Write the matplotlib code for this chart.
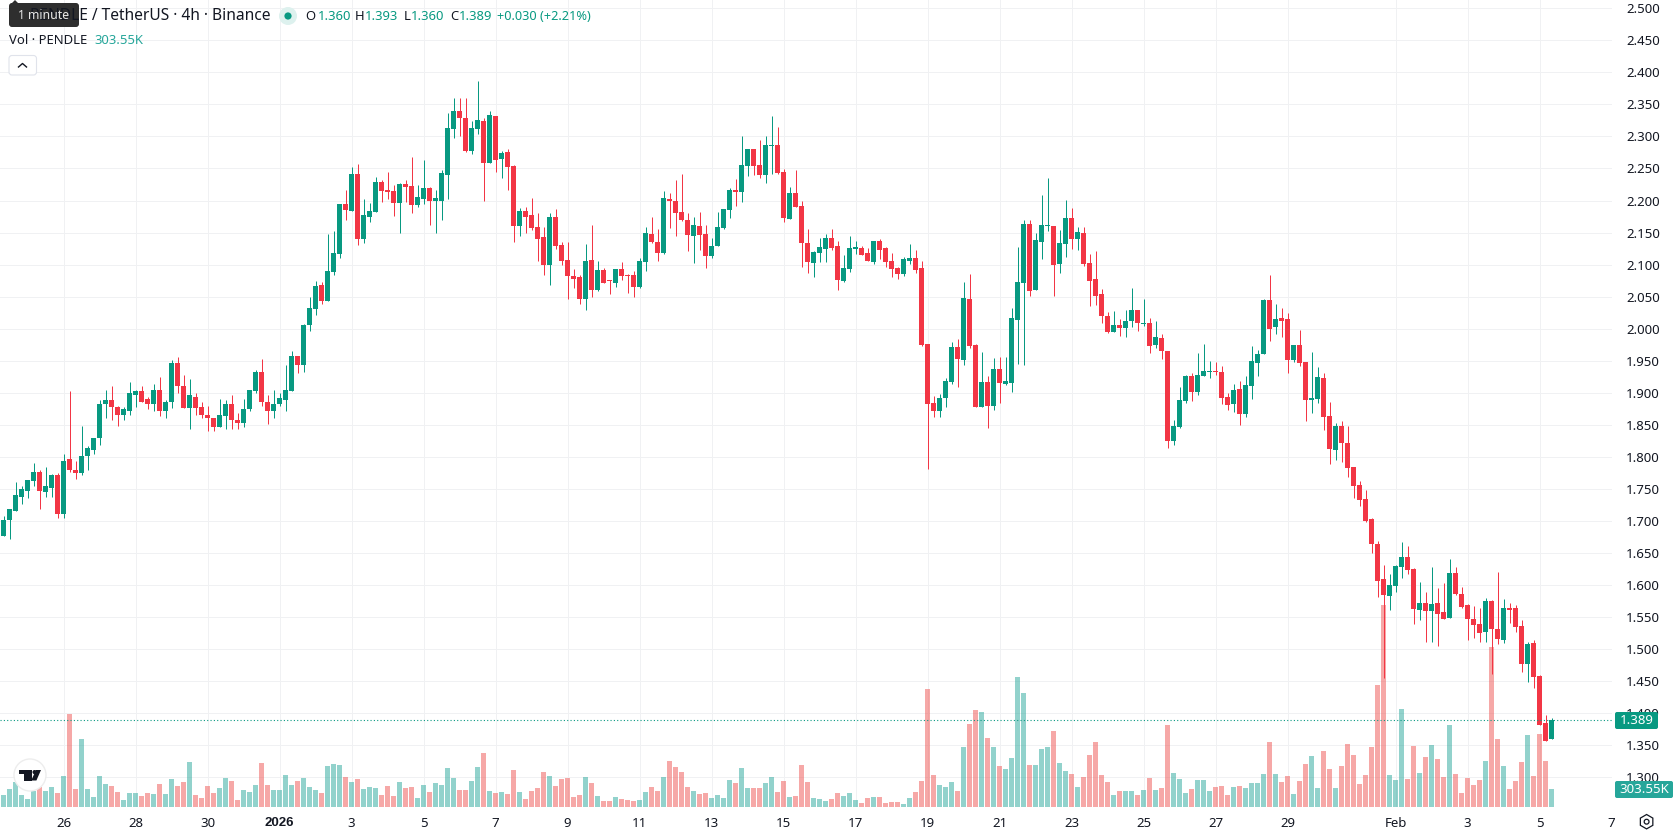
import matplotlib
matplotlib.use('Agg')
import matplotlib.pyplot as plt
from matplotlib.patches import Circle, FancyBboxPatch, Polygon, RegularPolygon
import numpy as np

plt.rcParams['font.family'] = ['Noto Sans', 'DejaVu Sans']

# 4h candles, PENDLE / TetherUS
opens = [1.677, 1.701, 1.715, 1.738, 1.747, 1.762, 1.777, 1.745, 1.751, 1.771,
         1.710, 1.796, 1.780, 1.775, 1.801, 1.811, 1.829, 1.882, 1.888, 1.877,
         1.865, 1.872, 1.897, 1.902, 1.890, 1.883, 1.905, 1.872, 1.885, 1.947,
         1.911, 1.876, 1.894, 1.877, 1.866, 1.861, 1.847, 1.863, 1.883, 1.858,
         1.852, 1.874, 1.902, 1.933, 1.886, 1.871, 1.882, 1.888, 1.902, 1.958,
         1.943, 2.005, 2.030, 2.068, 2.043, 2.088, 2.116, 2.194, 2.183, 2.241,
         2.140, 2.175, 2.182, 2.229, 2.216, 2.215, 2.196, 2.226, 2.222, 2.193,
         2.202, 2.219, 2.199, 2.200, 2.240, 2.311, 2.340, 2.329, 2.277, 2.311,
         2.324, 2.258, 2.332, 2.265, 2.276, 2.254, 2.160, 2.183, 2.177, 2.158,
         2.143, 2.100, 2.175, 2.130, 2.107, 2.082, 2.080, 2.047, 2.107, 2.060,
         2.091, 2.076, 2.072, 2.093, 2.083, 2.083, 2.065, 2.104, 2.147, 2.136,
         2.118, 2.202, 2.200, 2.182, 2.169, 2.144, 2.160, 2.147, 2.113, 2.129,
         2.157, 2.185, 2.216, 2.213, 2.254, 2.280, 2.255, 2.240, 2.285, 2.286,
         2.244, 2.171, 2.211, 2.191, 2.133, 2.102, 2.118, 2.124, 2.141, 2.129,
         2.074, 2.093, 2.124, 2.126, 2.118, 2.104, 2.137, 2.126, 2.106, 2.095,
         2.085, 2.106, 2.110, 2.095, 1.976, 1.884, 1.872, 1.891, 1.917, 1.972,
         1.951, 2.046, 1.975, 1.878, 1.917, 1.880, 1.937, 1.914, 1.915, 2.014,
         2.071, 2.163, 2.060, 2.135, 2.160, 2.160, 2.101, 2.132, 2.173, 2.140,
         2.149, 2.102, 2.078, 2.054, 2.020, 1.995, 2.006, 2.001, 2.012, 2.029,
         2.007, 2.009, 1.975, 1.986, 1.965, 1.825, 1.847, 1.887, 1.926, 1.901,
         1.926, 1.932, 1.934, 1.932, 1.893, 1.882, 1.906, 1.867, 1.910, 1.946,
         1.960, 2.044, 2.002, 2.016, 2.015, 1.951, 1.974, 1.948, 1.888, 1.890,
         1.923, 1.863, 1.810, 1.848, 1.821, 1.784, 1.756, 1.734, 1.703, 1.664,
         1.609, 1.583, 1.598, 1.628, 1.644, 1.625, 1.561, 1.572, 1.559, 1.572,
         1.558, 1.548, 1.619, 1.586, 1.569, 1.547, 1.539, 1.527, 1.575, 1.531,
         1.514, 1.564, 1.564, 1.536, 1.477, 1.509, 1.458, 1.385, 1.360]
closes = [1.702, 1.718, 1.740, 1.749, 1.763, 1.777, 1.746, 1.754, 1.771, 1.711,
          1.794, 1.779, 1.775, 1.801, 1.813, 1.830, 1.883, 1.888, 1.877, 1.865,
          1.874, 1.899, 1.902, 1.886, 1.883, 1.904, 1.872, 1.886, 1.947, 1.910,
          1.876, 1.896, 1.876, 1.865, 1.860, 1.847, 1.865, 1.882, 1.857, 1.852,
          1.874, 1.905, 1.933, 1.885, 1.871, 1.883, 1.891, 1.904, 1.958, 1.943,
          2.005, 2.032, 2.066, 2.043, 2.090, 2.118, 2.194, 2.185, 2.241, 2.140,
          2.177, 2.183, 2.229, 2.215, 2.213, 2.196, 2.226, 2.221, 2.193, 2.205,
          2.219, 2.199, 2.204, 2.243, 2.313, 2.340, 2.329, 2.277, 2.313, 2.326,
          2.258, 2.333, 2.263, 2.274, 2.252, 2.160, 2.183, 2.175, 2.157, 2.140,
          2.100, 2.175, 2.129, 2.105, 2.082, 2.077, 2.047, 2.105, 2.060, 2.091,
          2.071, 2.074, 2.093, 2.082, 2.082, 2.065, 2.105, 2.149, 2.135, 2.118,
          2.204, 2.199, 2.180, 2.169, 2.146, 2.161, 2.146, 2.113, 2.129, 2.158,
          2.186, 2.216, 2.213, 2.255, 2.280, 2.254, 2.240, 2.286, 2.286, 2.243,
          2.172, 2.211, 2.190, 2.133, 2.104, 2.119, 2.127, 2.141, 2.126, 2.076,
          2.095, 2.126, 2.127, 2.115, 2.106, 2.137, 2.123, 2.104, 2.093, 2.085,
          2.109, 2.110, 2.092, 1.975, 1.883, 1.872, 1.892, 1.918, 1.972, 1.953,
          2.048, 1.973, 1.878, 1.917, 1.880, 1.937, 1.915, 1.919, 2.017, 2.073,
          2.163, 2.059, 2.138, 2.162, 2.162, 2.099, 2.134, 2.173, 2.140, 2.151,
          2.101, 2.074, 2.051, 2.020, 1.995, 2.006, 2.001, 2.012, 2.029, 2.009,
          2.009, 1.973, 1.987, 1.965, 1.824, 1.848, 1.889, 1.926, 1.901, 1.928,
          1.934, 1.934, 1.932, 1.891, 1.881, 1.904, 1.867, 1.912, 1.949, 1.960,
          2.044, 2.000, 2.015, 2.012, 1.951, 1.974, 1.946, 1.888, 1.891, 1.924,
          1.862, 1.812, 1.848, 1.821, 1.782, 1.754, 1.732, 1.700, 1.664, 1.606,
          1.584, 1.600, 1.630, 1.644, 1.623, 1.562, 1.572, 1.559, 1.570, 1.555,
          1.547, 1.619, 1.586, 1.566, 1.547, 1.538, 1.525, 1.575, 1.531, 1.516,
          1.564, 1.561, 1.534, 1.477, 1.508, 1.456, 1.382, 1.357, 1.389]
highs = [1.708, 1.718, 1.760, 1.755, 1.764, 1.790, 1.780, 1.784, 1.773, 1.774,
         1.804, 1.902, 1.794, 1.848, 1.817, 1.830, 1.888, 1.904, 1.911, 1.879,
         1.877, 1.916, 1.905, 1.910, 1.894, 1.914, 1.924, 1.888, 1.951, 1.955,
         1.927, 1.922, 1.900, 1.886, 1.880, 1.861, 1.890, 1.888, 1.896, 1.868,
         1.890, 1.905, 1.936, 1.952, 1.897, 1.904, 1.899, 1.944, 1.965, 1.958,
         2.008, 2.050, 2.075, 2.073, 2.147, 2.152, 2.194, 2.216, 2.252, 2.257,
         2.202, 2.196, 2.236, 2.232, 2.244, 2.224, 2.227, 2.232, 2.268, 2.224,
         2.263, 2.221, 2.216, 2.247, 2.336, 2.360, 2.360, 2.360, 2.324, 2.386,
         2.329, 2.340, 2.332, 2.277, 2.280, 2.255, 2.188, 2.190, 2.204, 2.180,
         2.158, 2.180, 2.186, 2.136, 2.136, 2.093, 2.083, 2.132, 2.161, 2.105,
         2.094, 2.076, 2.093, 2.104, 2.085, 2.090, 2.111, 2.158, 2.175, 2.155,
         2.215, 2.212, 2.232, 2.241, 2.180, 2.174, 2.182, 2.161, 2.141, 2.182,
         2.186, 2.219, 2.233, 2.300, 2.280, 2.280, 2.294, 2.300, 2.332, 2.315,
         2.249, 2.221, 2.248, 2.200, 2.155, 2.121, 2.141, 2.148, 2.155, 2.137,
         2.115, 2.145, 2.137, 2.129, 2.126, 2.137, 2.140, 2.127, 2.118, 2.096,
         2.112, 2.132, 2.123, 2.106, 1.976, 1.895, 1.898, 1.923, 1.979, 1.984,
         2.073, 2.085, 1.976, 1.964, 1.926, 1.954, 1.956, 1.956, 2.032, 2.127,
         2.169, 2.169, 2.149, 2.208, 2.235, 2.160, 2.154, 2.201, 2.188, 2.159,
         2.159, 2.116, 2.121, 2.062, 2.026, 2.028, 2.015, 2.029, 2.063, 2.029,
         2.046, 2.017, 2.012, 1.992, 1.965, 1.858, 1.909, 1.928, 1.931, 1.962,
         1.976, 1.949, 1.948, 1.941, 1.899, 1.913, 1.918, 1.926, 1.973, 1.966,
         2.047, 2.083, 2.038, 2.032, 2.024, 1.974, 1.998, 1.948, 1.963, 1.940,
         1.930, 1.885, 1.852, 1.856, 1.848, 1.784, 1.762, 1.748, 1.704, 1.668,
         1.631, 1.617, 1.631, 1.667, 1.661, 1.626, 1.605, 1.589, 1.628, 1.595,
         1.603, 1.640, 1.628, 1.597, 1.570, 1.567, 1.564, 1.580, 1.577, 1.620,
         1.578, 1.572, 1.569, 1.545, 1.511, 1.514, 1.460, 1.397, 1.393]
lows = [1.677, 1.672, 1.715, 1.727, 1.735, 1.755, 1.719, 1.738, 1.738, 1.705,
        1.704, 1.777, 1.766, 1.771, 1.780, 1.805, 1.818, 1.861, 1.857, 1.848,
        1.858, 1.865, 1.877, 1.886, 1.874, 1.872, 1.863, 1.861, 1.876, 1.899,
        1.876, 1.844, 1.866, 1.860, 1.841, 1.840, 1.847, 1.843, 1.844, 1.844,
        1.846, 1.872, 1.899, 1.880, 1.851, 1.860, 1.879, 1.872, 1.902, 1.930,
        1.933, 1.997, 2.022, 2.038, 2.043, 2.083, 2.111, 2.169, 2.183, 2.130,
        2.133, 2.166, 2.182, 2.197, 2.202, 2.176, 2.150, 2.197, 2.180, 2.190,
        2.194, 2.161, 2.150, 2.169, 2.202, 2.297, 2.301, 2.276, 2.272, 2.304,
        2.199, 2.258, 2.244, 2.235, 2.216, 2.135, 2.144, 2.150, 2.154, 2.105,
        2.083, 2.068, 2.124, 2.100, 2.046, 2.063, 2.038, 2.029, 2.050, 2.058,
        2.071, 2.054, 2.065, 2.076, 2.055, 2.050, 2.063, 2.090, 2.133, 2.105,
        2.116, 2.157, 2.144, 2.168, 2.121, 2.102, 2.122, 2.094, 2.111, 2.129,
        2.155, 2.172, 2.191, 2.197, 2.238, 2.240, 2.235, 2.227, 2.241, 2.241,
        2.166, 2.171, 2.190, 2.097, 2.087, 2.080, 2.104, 2.104, 2.123, 2.060,
        2.073, 2.088, 2.116, 2.115, 2.106, 2.101, 2.109, 2.096, 2.081, 2.078,
        2.082, 2.101, 2.087, 1.973, 1.781, 1.862, 1.862, 1.878, 1.914, 1.909,
        1.944, 1.970, 1.878, 1.878, 1.845, 1.873, 1.884, 1.912, 1.901, 1.945,
        1.943, 2.051, 2.060, 2.109, 2.152, 2.051, 2.087, 2.112, 2.124, 2.123,
        2.098, 2.035, 2.037, 2.009, 1.993, 1.995, 1.989, 1.987, 2.003, 1.996,
        2.004, 1.962, 1.970, 1.953, 1.814, 1.819, 1.845, 1.884, 1.887, 1.897,
        1.926, 1.923, 1.927, 1.882, 1.873, 1.870, 1.849, 1.862, 1.890, 1.926,
        1.960, 1.980, 1.991, 1.987, 1.930, 1.948, 1.941, 1.856, 1.868, 1.884,
        1.842, 1.789, 1.795, 1.792, 1.768, 1.736, 1.723, 1.698, 1.650, 1.581,
        1.455, 1.561, 1.589, 1.611, 1.617, 1.539, 1.545, 1.511, 1.511, 1.505,
        1.547, 1.548, 1.584, 1.564, 1.514, 1.517, 1.511, 1.511, 1.461, 1.508,
        1.509, 1.541, 1.527, 1.464, 1.449, 1.439, 1.382, 1.356, 1.360]
# volume in thousands of PENDLE
volumes = [202, 304, 421, 202, 135, 270, 337, 270, 337, 236,
           523, 1568, 304, 1146, 304, 169, 523, 388, 354, 253,
           118, 236, 236, 185, 236, 219, 388, 219, 472, 354,
           421, 759, 202, 152, 354, 236, 320, 489, 438, 118,
           287, 253, 371, 742, 371, 287, 287, 540, 371, 438,
           489, 337, 287, 236, 691, 725, 708, 506, 421, 472,
           304, 337, 320, 202, 354, 185, 421, 320, 337, 152,
           371, 253, 405, 371, 658, 489, 287, 287, 438, 674,
           910, 270, 236, 253, 219, 624, 253, 135, 270, 320,
           590, 523, 354, 472, 489, 169, 202, 506, 405, 185,
           101, 101, 169, 135, 118, 101, 118, 253, 337, 270,
           506, 776, 674, 590, 337, 270, 219, 236, 152, 202,
           152, 455, 405, 658, 320, 320, 320, 405, 506, 253,
           438, 169, 185, 708, 421, 152, 135, 101, 135, 236,
           185, 236, 118, 67, 152, 169, 169, 67, 84, 84,
           51, 152, 253, 438, 1989, 540, 371, 337, 421, 270,
           1012, 1399, 1635, 1602, 1163, 1012, 691, 641, 826, 2192,
           1922, 708, 708, 978, 1012, 1281, 742, 607, 556, 337,
           506, 877, 1096, 540, 421, 202, 270, 270, 270, 202,
           287, 489, 287, 320, 1383, 573, 472, 236, 304, 455,
           455, 270, 337, 354, 202, 337, 354, 320, 405, 405,
           556, 1096, 556, 421, 523, 219, 438, 725, 860, 320,
           944, 641, 320, 691, 1062, 877, 388, 540, 1012, 2057,
           3406, 540, 455, 1652, 472, 1028, 573, 843, 1045, 809,
           506, 1383, 556, 236, 489, 371, 455, 776, 2698, 1146,
           691, 304, 438, 759, 1214, 523, 1231, 776, 303.55]

# date axis: candle index of each labelled day
date_pos = [10, 22, 34, 46, 58, 70, 82, 94, 106, 118, 130, 142, 154, 166, 178, 190, 202, 214, 232, 244, 256, 268]
date_labels = ['26', '28', '30', '2026', '3', '5', '7', '9', '11', '13', '15', '17', '19', '21', '23', '25', '27', '29', 'Feb', '3', '5', '7']
price_ticks = [1.30 + 0.05 * k for k in range(25)]

UP = '#089981'
DOWN = '#F23645'
VOL_UP = '#26A69A'
VOL_DOWN = '#EF5350'
GRID = '#F0F1F3'
TEXT = '#131722'

W, H = 1678, 835
PLOT_R, PLOT_B = 1612, 807

fig = plt.figure(figsize=(W / 100, H / 100), dpi=100, facecolor='white')
rect = [0, (H - PLOT_B) / H, PLOT_R / W, PLOT_B / H]

# grid and axis labels sit on the bottom axes, volume above it, candles on top
ax = fig.add_axes(rect)
ax_vol = fig.add_axes(rect, sharex=ax)
ax_candle = fig.add_axes(rect, sharex=ax, sharey=ax)
ax_vol.patch.set_visible(False)
ax_candle.patch.set_visible(False)

x = np.arange(len(opens))
opens = np.array(opens)
closes = np.array(closes)
highs = np.array(highs)
lows = np.array(lows)
colors = [UP if c >= o else DOWN for o, c in zip(opens, closes)]
vol_colors = [VOL_UP if c >= o else VOL_DOWN for o, c in zip(opens, closes)]

ax.set_xlim(-3.5 / 6, (PLOT_R - 3.5) / 6)
ax.set_ylim(2.5 - (PLOT_B - 8.3) / 640.7, 2.5 + 8.3 / 640.7)
ax_vol.set_ylim(0, PLOT_B * 16.86)

ax.set_yticks(price_ticks)
ax.set_yticklabels(['%.3f' % p for p in price_ticks])
ax.yaxis.tick_right()
ax.set_xticks(date_pos)
ax.set_xticklabels(date_labels)
ax.tick_params(axis='both', length=0, labelsize=9.5, labelcolor=TEXT)
ax.tick_params(axis='y', pad=10)
ax.tick_params(axis='x', pad=7)
ax.grid(True, color=GRID, linewidth=0.72)
ax.set_axisbelow(True)
for spine in ax.spines.values():
    spine.set_visible(False)
for a in (ax_vol, ax_candle):
    a.axis('off')

# the year label is bold; Noto Sans has no bold face here
year_label = ax.get_xticklabels()[date_labels.index('2026')]
year_label.set_fontfamily('Liberation Sans')
year_label.set_fontweight('bold')

# volume bars
ax_vol.bar(x, volumes, width=5 / 6, color=vol_colors, alpha=0.5, linewidth=0)

# candles
ax_candle.vlines(x, lows, highs, colors=colors, linewidth=0.72)
ax_candle.bar(x, np.abs(closes - opens), bottom=np.minimum(opens, closes), width=5 / 6, color=colors, linewidth=0)
ax_candle.axhline(closes[-1], color=UP, linewidth=0.8, linestyle=(0, (1, 2)))

# header, tooltip, badges and other chrome in pixel coordinates
ov = fig.add_axes([0, 0, 1, 1], zorder=10)
ov.set_xlim(0, W)
ov.set_ylim(H, 0)
ov.axis('off')

ov.text(271, 16, 'PENDLE / TetherUS · 4h · Binance', ha='right', va='center', fontsize=11.2, color=TEXT)
ov.add_patch(Circle((288, 16), 9, color='#DDF1EE', linewidth=0))
ov.add_patch(Circle((288, 16), 3.6, color=UP, linewidth=0))
for px, label, col, size in [(305, 'O', TEXT, 9.4), (317.5, '%.3f' % opens[-1], UP, 9.4),
                             (355, 'H', TEXT, 9.4), (365, '%.3f' % highs[-1], UP, 9.4),
                             (404, 'L', TEXT, 9.4), (411, '%.3f' % lows[-1], UP, 9.4),
                             (450, 'C', TEXT, 9.4), (459, '%.3f' % closes[-1], UP, 9.4),
                             (497, '+0.030 (+2.21%)', UP, 9.2)]:
    ov.text(px, 16.5, label, ha='left', va='center', fontsize=size, color=col)
ov.text(9, 40.5, 'Vol · PENDLE', ha='left', va='center', fontsize=9.4, color=TEXT)
ov.text(94, 40.5, '303.55K', ha='left', va='center', fontsize=9.4, color=VOL_UP)

# "1 minute" tooltip over the symbol name
ov.add_patch(FancyBboxPatch((11, 5), 66, 20, boxstyle='round,pad=2,rounding_size=3', fc='#2E2E2E', ec='none'))
ov.add_patch(Polygon([(11, 4), (15, 0), (19, 4)], fc='#2E2E2E', ec='none'))
ov.text(44, 15.5, '1 minute', ha='center', va='center', fontsize=8.8, color='#E6E6E6')

# collapse button
ov.add_patch(FancyBboxPatch((10, 56.5), 25.5, 17.5, boxstyle='round,pad=1,rounding_size=3', fc='white', ec='#E0E3EB', linewidth=0.8))
ov.plot([18.5, 22.5, 26.5], [67, 63.5, 67], color=TEXT, linewidth=1)

# last price and volume badges
ov.add_patch(FancyBboxPatch((1616, 713), 41, 15, boxstyle='round,pad=1,rounding_size=2', fc=UP, ec='none'))
ov.text(1636.5, 720.8, '%.3f' % closes[-1], ha='center', va='center', fontsize=9.5, color='white')
ov.add_patch(FancyBboxPatch((1616, 782), 56, 15, boxstyle='round,pad=1,rounding_size=2', fc=VOL_UP, ec='none'))
ov.text(1644, 789.8, '303.55K', ha='center', va='center', fontsize=9.5, color='white')

# logo badge
ov.add_patch(Circle((30, 775), 16, fc='white', ec='#EDEDED', linewidth=1))
ov.add_patch(Polygon([(18.6, 770), (31.5, 770), (31.5, 780.5), (23.6, 780.5), (23.6, 774.2), (18.6, 774.2)], fc='#131722', ec='none'))
ov.add_patch(Circle((34.6, 772.1), 2.1, fc='#131722', ec='none'))
ov.add_patch(Polygon([(36, 770), (41, 770), (36.4, 780.5), (31.2, 780.5)], fc='#131722', ec='none'))

# settings button
ov.add_patch(RegularPolygon((1646.6, 821.7), 6, radius=7.2, fc='none', ec=TEXT, linewidth=0.9))
ov.add_patch(Circle((1646.6, 821.7), 2.4, fc='none', ec=TEXT, linewidth=0.9))

fig.savefig('out.png', dpi=100, facecolor='white')
